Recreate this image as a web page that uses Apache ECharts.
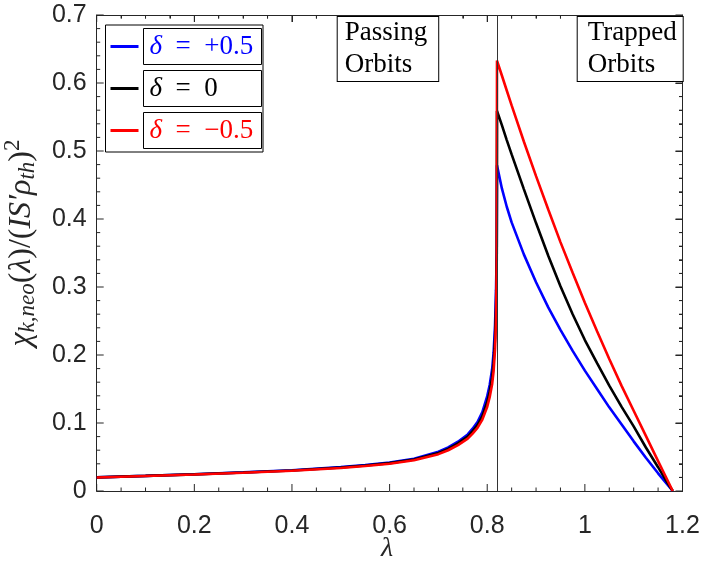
<!DOCTYPE html>
<html>
<head>
<meta charset="utf-8">
<script src="https://cdn.jsdelivr.net/npm/echarts@6/dist/echarts.min.js"></script>
<style>html,body{margin:0;padding:0;background:#fff;}#chart{width:702px;height:566px;}</style>
</head>
<body>
<div id="chart"></div>
<script>
// ---- data ----
const lambdaPassing = [0, 0.1, 0.2, 0.3, 0.4, 0.5, 0.55, 0.6, 0.65, 0.7, 0.72, 0.74, 0.76, 0.77, 0.78, 0.79, 0.8, 0.805, 0.81, 0.813, 0.816, 0.818, 0.8195];
const chiPassingPos  = [0.0201, 0.0223, 0.0247, 0.0274, 0.0306, 0.0351, 0.0381, 0.0419, 0.0475, 0.0578, 0.0641, 0.0725, 0.0832, 0.0917, 0.1015, 0.1160, 0.1395, 0.1560, 0.1790, 0.2030, 0.2440, 0.2950, 0.3600];
const chiPassingZero = [0.0200, 0.0222, 0.0245, 0.0271, 0.0302, 0.0345, 0.0374, 0.0410, 0.0463, 0.0560, 0.0620, 0.0700, 0.0800, 0.0880, 0.0970, 0.1100, 0.1310, 0.1460, 0.1670, 0.1880, 0.2250, 0.2700, 0.3500];
const chiPassingNeg  = [0.0199, 0.0221, 0.0243, 0.0268, 0.0298, 0.0339, 0.0367, 0.0401, 0.0451, 0.0542, 0.0599, 0.0675, 0.0770, 0.0845, 0.0928, 0.1050, 0.1240, 0.1380, 0.1570, 0.1760, 0.2090, 0.2500, 0.3400];

const lambdaTrapped  = [0.82, 0.83, 0.84, 0.85, 0.875, 0.9, 0.925, 0.95, 0.975, 1.0, 1.025, 1.05, 1.075, 1.1, 1.125, 1.15, 1.165, 1.18];
const chiTrappedPos  = [0.479, 0.445, 0.418, 0.395, 0.348, 0.307, 0.270, 0.237, 0.206, 0.177, 0.150, 0.123, 0.098, 0.073, 0.049, 0.026, 0.013, 0];
const chiTrappedZero = [0.559, 0.538, 0.516, 0.495, 0.444, 0.394, 0.346, 0.301, 0.260, 0.222, 0.188, 0.155, 0.124, 0.095, 0.064, 0.035, 0.017, 0];
const chiTrappedNeg  = [0.633, 0.611, 0.589, 0.567, 0.514, 0.463, 0.414, 0.366, 0.321, 0.277, 0.235, 0.194, 0.155, 0.118, 0.081, 0.044, 0.022, 0];

const boundaryLambda = 0.82;
const seriesNames = ['pos', 'zero', 'neg'];
const seriesLabels = ['\u2002=\u2002+0.5', '\u2002=\u20020', '\u2002=\u2002\u22120.5'];
const seriesColors = ['#0000ff', '#000000', '#ff0000'];
const xRange = [0, 1.2];
const yRange = [0, 0.7];
const xMajorTicks = [0, 0.2, 0.4, 0.6, 0.8, 1.0, 1.2];
const yMajorTicks = [0, 0.1, 0.2, 0.3, 0.4, 0.5, 0.6, 0.7];
const xMinorPerMajor = 4;
const yMinorPerMajor = 5;
const xTitle = 'λ';
const annotationTexts = ['Passing\nOrbits', 'Trapped\nOrbits'];

// ---- build ----
function zip(xs, ys) { return xs.map((x, i) => [x, ys[i]]); }
const seriesData = [
  zip(lambdaPassing, chiPassingPos).concat(zip(lambdaTrapped, chiTrappedPos)),
  zip(lambdaPassing, chiPassingZero).concat(zip(lambdaTrapped, chiTrappedZero)),
  zip(lambdaPassing, chiPassingNeg).concat(zip(lambdaTrapped, chiTrappedNeg))
];

// tick descriptors: [value, kind (0 = x, 1 = y), major flag]
const tickData = [];
function addTicks(majors, per, kind) {
  majors.forEach((v, i) => {
    tickData.push([v, kind, 1]);
    if (i < majors.length - 1) {
      const step = (majors[i + 1] - v) / per;
      for (let k = 1; k < per; k++) tickData.push([v + k * step, kind, 0]);
    }
  });
}
addTicks(xMajorTicks, xMinorPerMajor, 0);
addTicks(yMajorTicks, yMinorPerMajor, 1);

const axisColor = '#262626';
const tickFont = { fontFamily: '"Liberation Sans", Arial, sans-serif', fontSize: 25, color: axisColor };
const serif = '"Liberation Serif", "Times New Roman", serif';

function renderTick(params, api) {
  const v = api.value(0), kind = api.value(1), major = api.value(2);
  const len = major ? 7 : 3.5;
  const style = { stroke: axisColor, lineWidth: 1 };
  if (kind === 0) {
    const b = api.coord([v, yRange[0]]), t = api.coord([v, yRange[1]]);
    return { type: 'group', children: [
      { type: 'line', shape: { x1: b[0], y1: b[1], x2: b[0], y2: b[1] - len }, style: style },
      { type: 'line', shape: { x1: t[0], y1: t[1], x2: t[0], y2: t[1] + len }, style: style }
    ] };
  }
  const l = api.coord([xRange[0], v]), r = api.coord([xRange[1], v]);
  return { type: 'group', children: [
    { type: 'line', shape: { x1: l[0], y1: l[1], x2: l[0] + len, y2: l[1] }, style: style },
    { type: 'line', shape: { x1: r[0], y1: r[1], x2: r[0] - len, y2: r[1] }, style: style }
  ] };
}

function frameAxis(kind, pos) {
  return {
    type: 'value', position: pos,
    min: kind === 'x' ? xRange[0] : yRange[0], max: kind === 'x' ? xRange[1] : yRange[1],
    interval: kind === 'x' ? 0.2 : 0.1,
    axisLine: { show: true, onZero: false, lineStyle: { color: axisColor, width: 1 } },
    axisTick: { show: true, inside: true, length: 7, lineStyle: { color: axisColor, width: 1 } },
    minorTick: { show: true, splitNumber: kind === 'x' ? xMinorPerMajor : yMinorPerMajor, length: 3.5, lineStyle: { color: axisColor, width: 1 } },
    splitLine: { show: false },
    axisLabel: { show: false, margin: 10, fontSize: 12 }
  };
}

const xLabelAxis = {
  type: 'value', position: 'bottom', min: xRange[0], max: xRange[1], interval: 0.2,
  axisLine: { show: true, onZero: false, lineStyle: { color: axisColor, width: 1 } },
  axisTick: { show: false }, minorTick: { show: false }, splitLine: { show: false },
  axisLabel: Object.assign({ show: true, margin: 23 }, tickFont)
};
const yLabelAxis = {
  type: 'value', position: 'left', min: yRange[0], max: yRange[1], interval: 0.1,
  axisLine: { show: true, onZero: false, lineStyle: { color: axisColor, width: 1 } },
  axisTick: { show: false }, minorTick: { show: false }, splitLine: { show: false },
  axisLabel: Object.assign({ show: true, margin: 10 }, tickFont),
  name: '{m|χ}{s|k,neo}{n|(}{m|λ}{n|)/(}{m|IS′ρ}{s|th}{n|)}{p|2}',
  nameLocation: 'middle', nameRotate: 90, nameGap: 55,
  nameTextStyle: {
    padding: [0, 0, 0, 20],
    rich: {
      m: { fontFamily: serif, fontStyle: 'italic', fontSize: 32, color: axisColor },
      n: { fontFamily: serif, fontSize: 32, color: axisColor },
      s: { fontFamily: serif, fontStyle: 'italic', fontSize: 23, color: axisColor, padding: [13, 0, 0, 0] },
      p: { fontFamily: serif, fontSize: 23, color: axisColor, padding: [0, 0, 17, 0] }
    }
  }
};

const legendRich = {};
seriesColors.forEach((c, i) => {
  legendRich['i' + i] = { fontFamily: serif, fontStyle: 'italic', fontSize: 27, color: c };
  legendRich['t' + i] = { fontFamily: serif, fontSize: 27, color: c };
});

const lineSeries = seriesNames.map((n, i) => ({
  name: n, type: 'line', data: seriesData[i], showSymbol: false, symbol: 'none',
  smooth: false,
  lineStyle: { color: seriesColors[i], width: 2.6 },
  itemStyle: { color: seriesColors[i] },
  z: 2 + i,
  markLine: i === 2 ? {
    silent: true, symbol: 'none', label: { show: false },
    lineStyle: { color: '#333', width: 1, type: 'solid' },
    data: [{ xAxis: boundaryLambda }]
  } : undefined
}));

const option = {
  animation: false,
  backgroundColor: '#fff',
  grid: { left: 96.7, right: 19.5, top: 15, bottom: 75, outerBoundsMode: 'none' },
  xAxis: [xLabelAxis, frameAxis('x', 'top')],
  yAxis: [yLabelAxis, frameAxis('y', 'right')],
  legend: {
    left: 105.5, top: 25, orient: 'vertical',
    selectedMode: false,
    backgroundColor: '#fff', borderColor: '#000', borderWidth: 1,
    padding: [3, 1, 3, 5], itemGap: 5,
    itemWidth: 28, itemHeight: 3, icon: 'rect',
    data: seriesNames.map((n, i) => ({ name: n, itemStyle: { color: seriesColors[i] } })),
    formatter: function (name) {
      const i = seriesNames.indexOf(name);
      return '{i' + i + '|δ}{t' + i + '|' + seriesLabels[i] + '}';
    },
    textStyle: {
      borderColor: '#000', borderWidth: 1, padding: [3, 8, 3, 6], width: 104,
      lineHeight: 30, fontSize: 27, rich: legendRich
    }
  },
  graphic: [
    { type: 'text', left: 336.7, top: 16, z: 10,
      style: { text: annotationTexts[0], font: '27px "Liberation Serif", serif', fill: '#000', lineHeight: 32,
               backgroundColor: '#fff', borderColor: '#000', borderWidth: 1, padding: [0, 11, 0, 7] } },
    { type: 'text', left: 576.7, top: 16, z: 10,
      style: { text: annotationTexts[1], font: '27px "Liberation Serif", serif', fill: '#000', lineHeight: 32,
               backgroundColor: '#fff', borderColor: '#000', borderWidth: 1, padding: [0, 6, 0, 10] } },
    { type: 'text', left: 381, top: 535, z: 10,
      style: { text: xTitle, font: 'italic 28px "Liberation Serif", serif', fill: axisColor } }
  ],
  series: lineSeries.concat([{
    name: 'ticks', type: 'custom', data: tickData, renderItem: renderTick,
    xAxisIndex: 0, yAxisIndex: 0, silent: true, clip: false, z: 1,
    encode: { x: 0, y: 1 }
  }])
};

const chart = echarts.init(document.getElementById('chart'), null, { renderer: 'canvas' });
chart.setOption(option);
</script>
</body>
</html>
